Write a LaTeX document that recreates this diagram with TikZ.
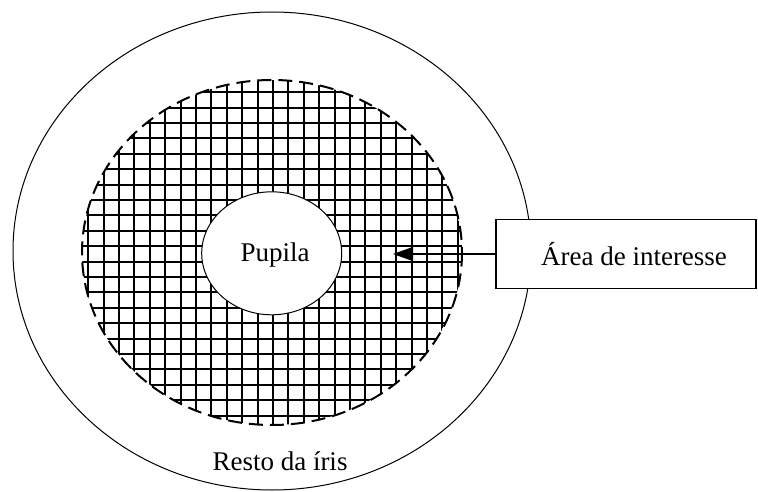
\documentclass[tikz,border=0pt]{standalone}
\usepackage{fontspec}
\setmainfont{Liberation Serif}
\usetikzlibrary{arrows.meta,shapes.geometric}
\begin{document}
\begin{tikzpicture}[x=1pt,y=-1pt,
  lbl/.style={font=\fontsize{27}{29}\selectfont, inner sep=0pt},
  gridline/.style={line width=1.9pt},
  dashedring/.style={line width=2pt, dash pattern=on 14pt off 7pt},
  thin/.style={line width=1pt}]
\useasboundingbox (0,0) rectangle (758,492);
% outer iris
\node[draw, thin, ellipse, minimum width=518pt, minimum height=478pt, inner sep=0pt] (iris) at (272,251) {};
% grid region
\begin{scope}
  \clip (272,252.5) ellipse [x radius=190, y radius=172.5];
  \foreach \i in {-1,...,26} {
    \pgfmathsetmacro{\gx}{round(88.3+15.4*\i)}
    \pgfmathsetmacro{\gy}{round(92.3+15.4*\i)}
    \draw[gridline] (\gx,60) -- (\gx,440);
    \draw[gridline] (60,\gy) -- (480,\gy);
  }
\end{scope}
\coordinate (roi) at (272,252.5);
\draw[dashedring] (roi) ellipse [x radius=190, y radius=172.5];
% pupil
\node[draw, thin, fill=white, ellipse, minimum width=140pt, minimum height=123pt, inner sep=0pt] (pupil) at (271.7,253.3) {};
\node[lbl] (pupilalabel) at (275,255) {Pupila};
% box
\node[draw, line width=1.2pt, fill=white, minimum width=260pt, minimum height=69pt, inner sep=0pt] (box) at (626,254) {};
\node[lbl] (boxlabel) at (634,254) {Área de interesse};
\coordinate (tip) at (393,254);
\draw[line width=1.3pt, -{Triangle[length=20pt,width=14pt]}] (box.west) -- (tip);
% label
\node[lbl] (resto) at (280,461) {Resto da íris};
\end{tikzpicture}
\end{document}
